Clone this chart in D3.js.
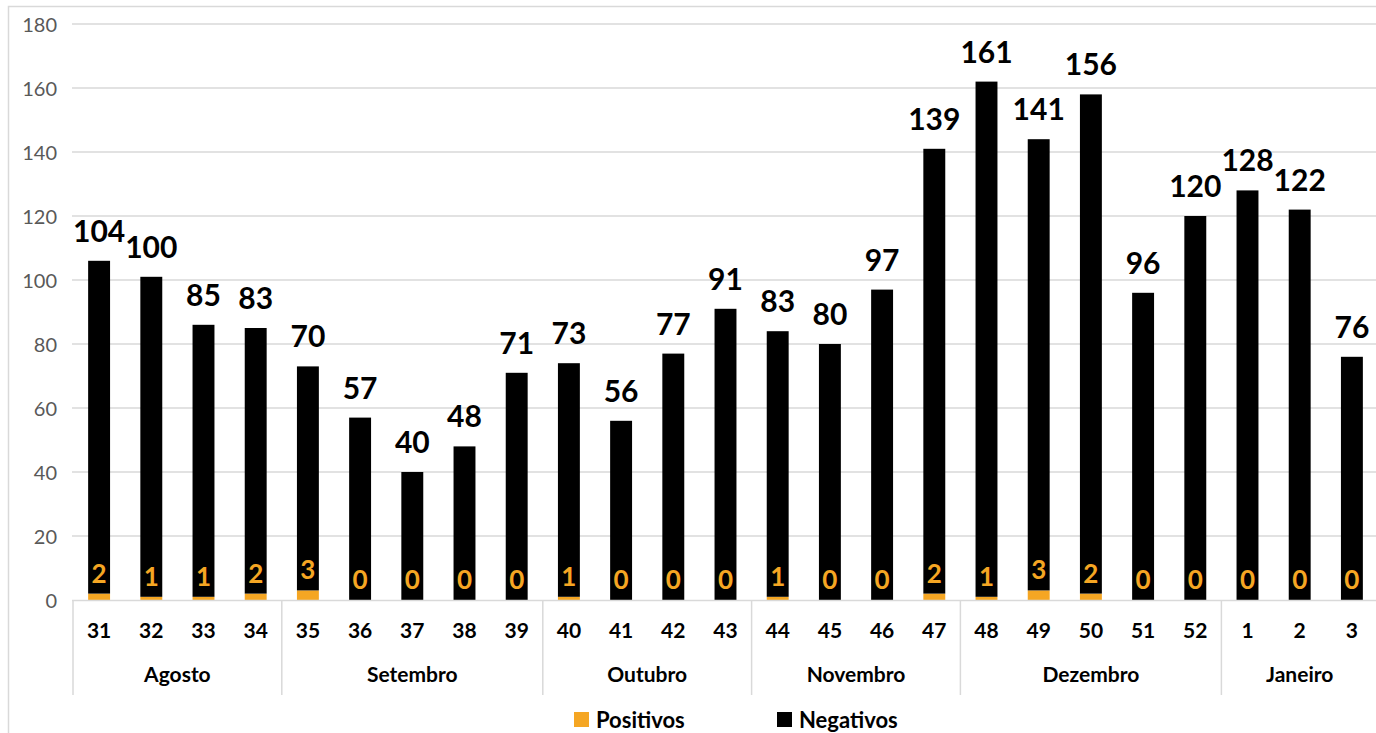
<!DOCTYPE html>
<html><head><meta charset="utf-8">
<script src="https://cdn.jsdelivr.net/npm/d3@7"></script>
<style>body{margin:0;background:#fff;overflow:hidden}svg{display:block}text{font-family:Lato,"Open Sans",sans-serif}</style>
</head><body>
<script>
const weeks = ["31","32","33","34","35","36","37","38","39","40","41","42","43","44","45","46","47","48","49","50","51","52","1","2","3"];
const months = ["Agosto","Setembro","Outubro","Novembro","Dezembro","Janeiro"];
const monthCounts = [4,5,4,4,5,3];
const negativos = [104,100,85,83,70,57,40,48,71,73,56,77,91,83,80,97,139,161,141,156,96,120,128,122,76];
const positivos = [2,1,1,2,3,0,0,0,0,1,0,0,0,1,0,0,2,1,3,2,0,0,0,0,0];
const yTicks = [0,20,40,60,80,100,120,140,160,180];
const seriesNames = ["Positivos","Negativos"];
const colors = ["#F5A623","#000000"];

const W=1376,H=733;
const svg=d3.select("body").append("svg").attr("width",W).attr("height",H);
// outer frame
svg.append("rect").attr("x",8.5).attr("y",6.5).attr("width",W+10).attr("height",H+10)
  .attr("fill","none").attr("stroke","#d9d9d9").attr("stroke-width",1.5);

const x=d3.scaleBand().domain(weeks.map((w,i)=>i)).range([73,1378]).paddingInner(0.58).paddingOuter(0.29);
const y=d3.scaleLinear().domain([0,180]).range([600,24]);

// gridlines
svg.append("g").selectAll("line").data(yTicks.filter(t=>t>0)).join("line")
  .attr("x1",72).attr("x2",W).attr("y1",d=>y(d)).attr("y2",d=>y(d))
  .attr("stroke","#d9d9d9").attr("stroke-width",1.5);
// y axis labels
const yAxis=d3.axisLeft(y).tickValues(yTicks).tickSize(0).tickPadding(0);
const ga=svg.append("g").attr("transform","translate(57,0)").call(yAxis);
ga.select(".domain").remove();
ga.selectAll("text").attr("font-size",20).attr("fill","#595959").attr("font-family","Lato,sans-serif").attr("dy","0.35em");

// bars (stacked)
const data=weeks.map((w,i)=>({i,pos:positivos[i],neg:negativos[i]}));
const g=svg.append("g");
g.selectAll("rect.pos").data(data).join("rect").attr("class","pos")
  .attr("x",d=>x(d.i)).attr("width",x.bandwidth())
  .attr("y",d=>y(d.pos)).attr("height",d=>y(0)-y(d.pos)).attr("fill",colors[0]);
g.selectAll("rect.neg").data(data).join("rect").attr("class","neg")
  .attr("x",d=>x(d.i)).attr("width",x.bandwidth())
  .attr("y",d=>y(d.pos+d.neg)).attr("height",d=>y(d.pos)-y(d.pos+d.neg)).attr("fill",colors[1]);

// x baseline
svg.append("line").attr("x1",72).attr("x2",W).attr("y1",600.5).attr("y2",600.5).attr("stroke","#d9d9d9").attr("stroke-width",1.5);

// labels
g.selectAll("text.neg").data(data).join("text").attr("class","neg")
  .attr("x",d=>x(d.i)+x.bandwidth()/2).attr("y",d=>y(d.pos+d.neg)-19)
  .attr("text-anchor","middle").attr("font-size",30).attr("font-weight",700).attr("fill","#000")
  .text(d=>d.neg);
g.selectAll("text.pos").data(data).join("text").attr("class","pos")
  .attr("x",d=>x(d.i)+x.bandwidth()/2).attr("y",d=>y(d.pos)-11)
  .attr("text-anchor","middle").attr("font-size",26).attr("font-weight",700).attr("fill",colors[0])
  .text(d=>d.pos);

// week labels
svg.append("g").selectAll("text").data(weeks).join("text")
  .attr("x",(d,i)=>x(i)+x.bandwidth()/2).attr("y",638)
  .attr("text-anchor","middle").attr("font-size",21).attr("font-weight",700).attr("fill","#000").text(d=>d);

// month groups
const step=x.step();
let start=0;
const bounds=[];
months.forEach((m,k)=>{bounds.push({m,s:start,e:start+monthCounts[k]});start+=monthCounts[k];});
const xEdge=i=>73+i*step;
svg.append("g").selectAll("line").data([0,...bounds.map(b=>b.e)]).join("line")
  .attr("x1",d=>xEdge(d)).attr("x2",d=>xEdge(d)).attr("y1",600).attr("y2",695)
  .attr("stroke","#d9d9d9").attr("stroke-width",1.5);
svg.append("g").selectAll("text").data(bounds).join("text")
  .attr("x",d=>(xEdge(d.s)+Math.min(xEdge(d.e),W+40))/2).attr("y",682)
  .attr("text-anchor","middle").attr("font-size",21).attr("font-weight",700).attr("fill","#000").text(d=>d.m);

// legend
const leg=svg.append("g");
const legX=[574,777];
seriesNames.forEach((n,k)=>{
  leg.append("rect").attr("x",legX[k]).attr("y",712).attr("width",15).attr("height",15).attr("fill",colors[k]);
  leg.append("text").attr("x",legX[k]+22).attr("y",728).attr("font-size",22).attr("font-weight",700).attr("fill","#000").text(n);
});
</script>
</body></html>
